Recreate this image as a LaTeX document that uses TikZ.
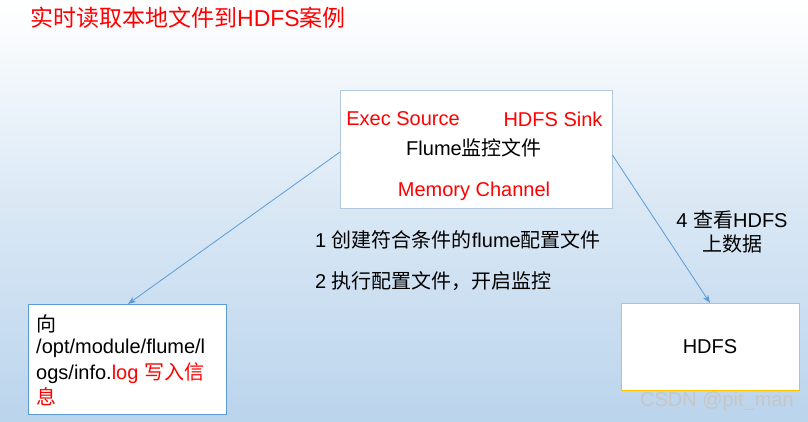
\documentclass[tikz,border=0pt]{standalone}
\usepackage{fontspec}
\usetikzlibrary{arrows.meta}
\setmainfont{Liberation Sans}
\newfontfamily\cjk{Noto Sans CJK SC}
\begin{document}
\begin{tikzpicture}[x=1pt,y=-1pt,
  txt/.style={inner sep=0pt,font=\fontsize{20}{24}\selectfont},
  arr/.style={draw=arrowc,line width=0.8pt,-{Stealth[length=8pt,width=6pt]}}]
\definecolor{bgtop}{RGB}{255,255,255}
\definecolor{bgbot}{RGB}{186,212,236}
\definecolor{arrowc}{RGB}{91,155,213}
\definecolor{redc}{RGB}{255,0,0}
\shade[top color=bgtop,bottom color=bgbot,middle color=bgbot!55] (0,0) rectangle (808,422);
\useasboundingbox (0,0) rectangle (808,422);
\node[anchor=west,inner sep=0pt,text=redc,font=\fontsize{23}{27}\selectfont] (title) at (30,18) {{\cjk 实时读取本地文件到}HDFS{\cjk 案例}};
\node[draw={rgb,255:red,180;green,200;blue,220},fill=white,minimum width=272,minimum height=118,anchor=north west] (flume) at (340,90) {};
\node[draw=arrowc,fill=white,minimum width=198,minimum height=110,anchor=north west] (local) at (28,304) {};
\node[draw={rgb,255:red,255;green,192;blue,0},fill=white,minimum width=178,minimum height=87,anchor=north west] (hdfs) at (621,303) {};
\node[txt,text=redc] (es) at (403,119) {Exec Source};
\node[txt,text=redc] (hs) at (553,119) {HDFS Sink};
\node[txt] (fm) at (474,148) {Flume{\cjk 监控文件}};
\node[txt,text=redc] (mc) at (474,191) {Memory Channel};
\node[txt,anchor=west] (s1) at (315,240) {1 {\cjk 创建符合条件的}flume{\cjk 配置文件}};
\node[txt,anchor=west] (s2) at (315,281) {2 {\cjk 执行配置文件，开启监控}};
\node[txt] (s4a) at (732,220) {4 {\cjk 查看}HDFS};
\node[txt] (s4b) at (732,244) {\cjk 上数据};
\node[txt] (hl) at (710,347) {HDFS};
\node[txt,anchor=west] (l1) at (36,324) {\cjk 向};
\node[txt,anchor=west] (l2) at (36,348) {/opt/module/flume/l};
\node[txt,anchor=west] (l3) at (36,373) {ogs/info.\textcolor{redc}{log {\cjk 写入信}}};
\node[txt,anchor=west,text=redc] (l4) at (36,397) {\cjk 息};
\node[txt,text=white!55!gray,anchor=east] (wm) at (794,401) {CSDN @pit\_man};
\draw[arr] (flume.west |- 0,152) -- (local.north -| 128,0);
\draw[arr] (flume.east |- 0,155) -- (hdfs.north -| 710,0);
\end{tikzpicture}
\end{document}
